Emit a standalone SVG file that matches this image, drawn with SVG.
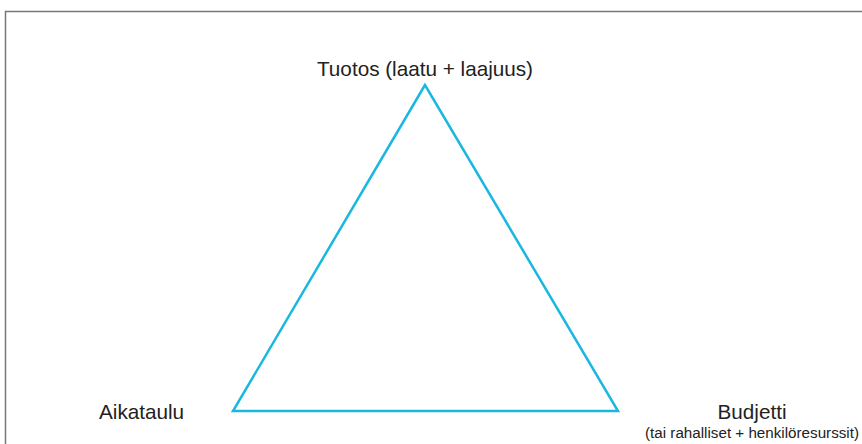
<svg xmlns="http://www.w3.org/2000/svg" width="862" height="444" viewBox="0 0 862 444">
<style>
text{font-family:"Liberation Sans",Arial,sans-serif;fill:#222}
.l{font-size:20.7px}
.s{font-size:15.2px}
</style>
<rect x="0" y="0" width="862" height="444" fill="#fff"/>
<path d="M5.5 450 V11.5 H870" fill="none" stroke="#777" stroke-width="1.5"/>
<g id="connectors">
<polygon points="425,85 233,411 618,411" fill="none" stroke="#1ab8e0" stroke-width="2.5" stroke-linejoin="miter"/>
</g>
<g id="tuotos"><text class="l" x="425" y="76" text-anchor="middle">Tuotos (laatu + laajuus)</text></g>
<g id="aikataulu"><text class="l" x="99" y="419">Aikataulu</text></g>
<g id="budjetti"><text class="l" x="752" y="419" text-anchor="middle">Budjetti</text>
<text class="s" x="752" y="438" text-anchor="middle">(tai rahalliset + henkilöresurssit)</text></g>
</svg>
